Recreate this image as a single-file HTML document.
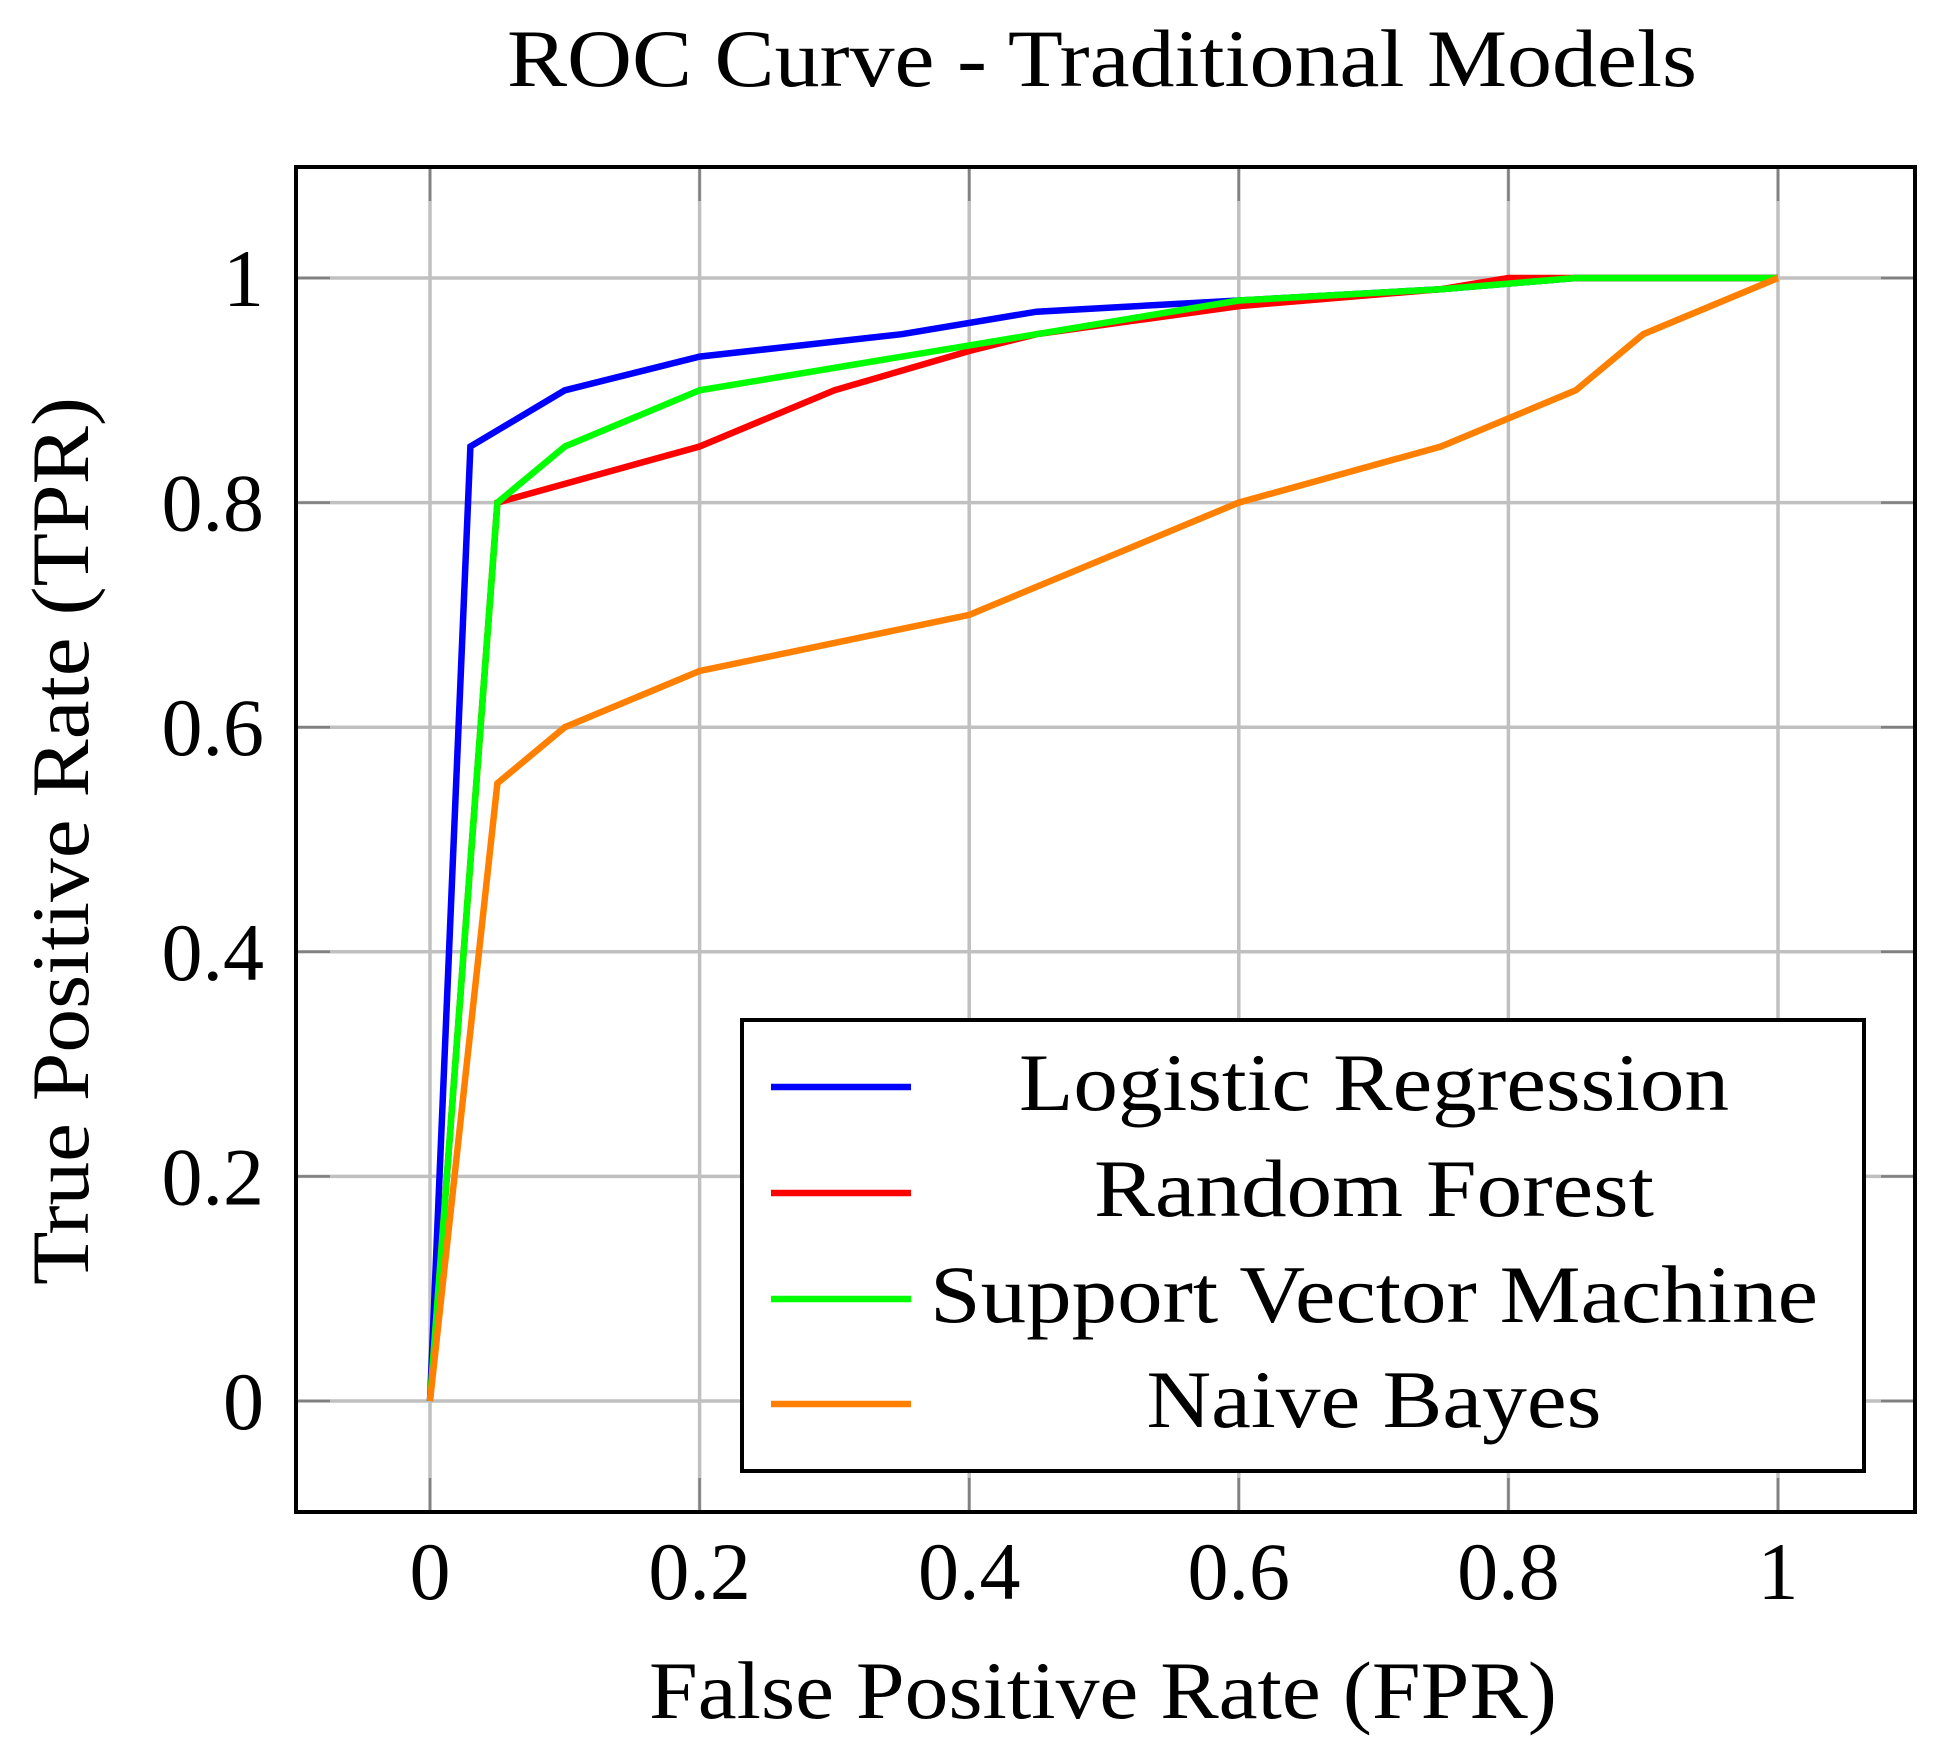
<!DOCTYPE html>
<html><head><meta charset="utf-8"><style>
html,body{margin:0;padding:0;background:#fff;}
svg text{font-family:"Liberation Serif",serif;fill:#000;}
</style></head><body>
<svg id="chart" width="1959" height="1748" viewBox="0 0 1959 1748" xmlns="http://www.w3.org/2000/svg">
<text x="1102" y="86" font-size="82" text-anchor="middle" textLength="1190" lengthAdjust="spacingAndGlyphs">ROC Curve - Traditional Models</text>
<g id="grid"></g>
<g id="series"></g>
<rect x="296" y="167" width="1619" height="1345" fill="none" stroke="#000" stroke-width="4"/>
<g id="legend"></g>
<text x="1103" y="1718" font-size="82" text-anchor="middle" textLength="908" lengthAdjust="spacingAndGlyphs">False Positive Rate (FPR)</text>
<text transform="translate(88,841) rotate(-90)" font-size="82" text-anchor="middle" textLength="888" lengthAdjust="spacingAndGlyphs">True Positive Rate (TPR)</text>
</svg>
<script>
const xTicks = [0, 0.2, 0.4, 0.6, 0.8, 1];
const yTicks = [0, 0.2, 0.4, 0.6, 0.8, 1];
const xTickLabels = ["0", "0.2", "0.4", "0.6", "0.8", "1"];
const yTickLabels = ["0", "0.2", "0.4", "0.6", "0.8", "1"];
const seriesNames = ["Logistic Regression", "Random Forest", "Support Vector Machine", "Naive Bayes"];
const seriesColors = ["#0000ff", "#ff0000", "#00ff00", "#ff8000"];
const lrX = [0, 0.03, 0.1, 0.2, 0.35, 0.45, 0.6, 0.75, 0.85, 1];
const lrY = [0, 0.85, 0.9, 0.93, 0.95, 0.97, 0.98, 0.99, 1, 1];
const rfX = [0, 0.05, 0.2, 0.3, 0.4, 0.45, 0.6, 0.75, 0.8, 1];
const rfY = [0, 0.8, 0.85, 0.9, 0.935, 0.95, 0.975, 0.99, 1, 1];
const svmX = [0, 0.05, 0.1, 0.2, 0.4, 0.45, 0.6, 0.75, 0.85, 1];
const svmY = [0, 0.8, 0.85, 0.9, 0.94, 0.95, 0.98, 0.99, 1, 1];
const nbX = [0, 0.05, 0.1, 0.2, 0.4, 0.6, 0.75, 0.85, 0.9, 1];
const nbY = [0, 0.55, 0.6, 0.65, 0.7, 0.8, 0.85, 0.9, 0.95, 1];

const NS = "http://www.w3.org/2000/svg";
const PL = 296, PR = 1915, PT = 167, PB = 1512;
function sx(v){ return 430 + v * 1348; }
function sy(v){ return 1401 - v * 1123; }
function mk(tag, attrs, parent){
  const e = document.createElementNS(NS, tag);
  for (const k in attrs) e.setAttribute(k, attrs[k]);
  parent.appendChild(e);
  return e;
}
const grid = document.getElementById('grid');
xTicks.forEach((t, i) => {
  const x = sx(t);
  const g = mk('line', {x1:x, x2:x, y1:PT, y2:PB, stroke:'#c0c0c0', 'stroke-width':3.5}, grid);
  
  
  mk('line', {x1:x, x2:x, y1:PT, y2:PT+34, stroke:'#808080', 'stroke-width':2.5}, grid);
  mk('line', {x1:x, x2:x, y1:PB, y2:PB-34, stroke:'#808080', 'stroke-width':2.5}, grid);
  const tx = mk('text', {x:x, y:1599, 'font-size':82, 'text-anchor':'middle'}, grid);
  tx.textContent = xTickLabels[i];
  
  
});
yTicks.forEach((t, i) => {
  const y = sy(t);
  const g = mk('line', {x1:PL, x2:PR, y1:y, y2:y, stroke:'#c0c0c0', 'stroke-width':3.5}, grid);
  
  
  mk('line', {x1:PL, x2:PL+34, y1:y, y2:y, stroke:'#808080', 'stroke-width':2.5}, grid);
  mk('line', {x1:PR, x2:PR-34, y1:y, y2:y, stroke:'#808080', 'stroke-width':2.5}, grid);
  const tx = mk('text', {x:264, y:y+28, 'font-size':82, 'text-anchor':'end'}, grid);
  tx.textContent = yTickLabels[i];
  
  
});
const series = document.getElementById('series');
const allX = [lrX, rfX, svmX, nbX];
const allY = [lrY, rfY, svmY, nbY];
const seriesKeys = ['logistic-regression', 'random-forest', 'svm', 'naive-bayes'];
allX.forEach((xs, s) => {
  const pts = xs.map((v, i) => sx(v).toFixed(1) + ',' + sy(allY[s][i]).toFixed(1)).join(' ');
  const p = mk('polyline', {points:pts, fill:'none', stroke:seriesColors[s], 'stroke-width':6.5, 'stroke-linejoin':'miter'}, series);
  
  
});
const legend = document.getElementById('legend');
const lb = mk('rect', {x:742, y:1020, width:1122, height:451, fill:'#fff', stroke:'#000', 'stroke-width':4}, legend);


const rowY = [1087, 1193, 1299, 1404];
const textW = [710, 560, 888, 455];
seriesNames.forEach((n, i) => {
  const l = mk('line', {x1:771, x2:911, y1:rowY[i], y2:rowY[i], stroke:seriesColors[i], 'stroke-width':6.5}, legend);
  
  
  const t = mk('text', {x:1374, y:rowY[i]+23, 'font-size':82, 'text-anchor':'middle', textLength:textW[i], lengthAdjust:'spacingAndGlyphs'}, legend);
  t.textContent = n;
  
  
});
</script>
</body></html>
